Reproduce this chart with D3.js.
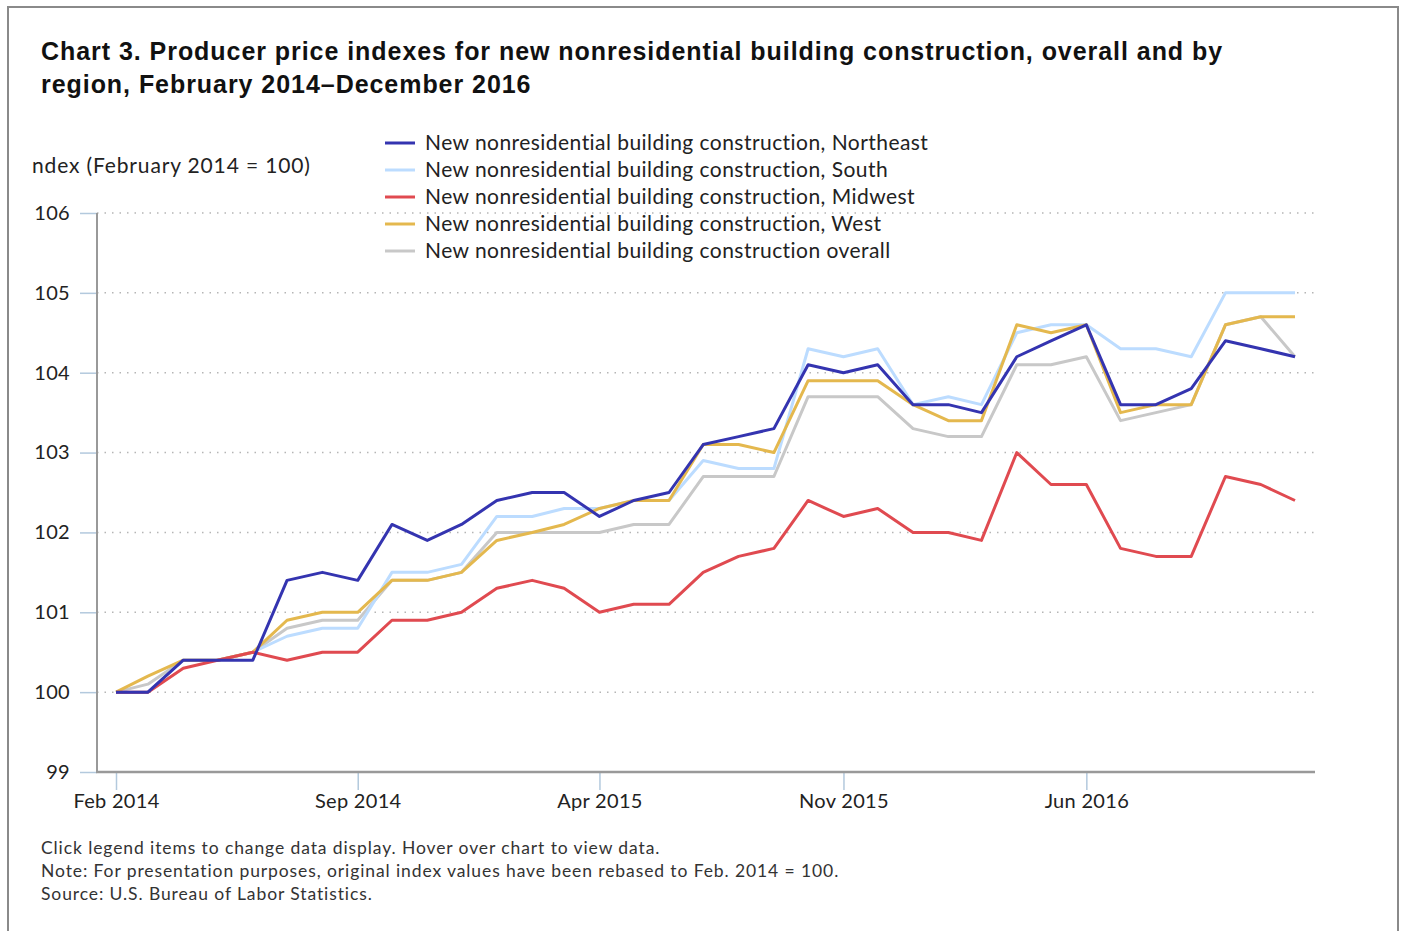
<!DOCTYPE html>
<html>
<head>
<meta charset="utf-8">
<script src="https://cdn.jsdelivr.net/npm/d3@7"></script>
<style>
  body { margin: 0; background: #fff; }
  svg { display: block; }
  .tick text { font-family: Lato, "Open Sans", sans-serif; font-size: 20px; fill: #222; letter-spacing: 0.3px; }
</style>
</head>
<body>
<svg width="1401" height="931"></svg>
<script>
// month index 0 = Feb 2014 ... 34 = Dec 2016
const startMonth = new Date(2014, 1, 1);
const monthCount = 35;
const xTickLabels = ["Feb 2014", "Sep 2014", "Apr 2015", "Nov 2015", "Jun 2016"];
const yTicks = [99, 100, 101, 102, 103, 104, 105, 106];

const seriesNames = [
  "New nonresidential building construction, Northeast",
  "New nonresidential building construction, South",
  "New nonresidential building construction, Midwest",
  "New nonresidential building construction, West",
  "New nonresidential building construction overall"
];

const northeast = [100.0,100.0,100.4,100.4,100.4,101.4,101.5,101.4,102.1,101.9,102.1,102.4,102.5,102.5,102.2,102.4,102.5,103.1,103.2,103.3,104.1,104.0,104.1,103.6,103.6,103.5,104.2,104.4,104.6,103.6,103.6,103.8,104.4,104.3,104.2];
const south = [100.0,100.0,100.4,100.4,100.5,100.7,100.8,100.8,101.5,101.5,101.6,102.2,102.2,102.3,102.3,102.4,102.4,102.9,102.8,102.8,104.3,104.2,104.3,103.6,103.7,103.6,104.5,104.6,104.6,104.3,104.3,104.2,105.0,105.0,105.0];
const midwest = [100.0,100.0,100.3,100.4,100.5,100.4,100.5,100.5,100.9,100.9,101.0,101.3,101.4,101.3,101.0,101.1,101.1,101.5,101.7,101.8,102.4,102.2,102.3,102.0,102.0,101.9,103.0,102.6,102.6,101.8,101.7,101.7,102.7,102.6,102.4];
const west = [100.0,100.2,100.4,100.4,100.5,100.9,101.0,101.0,101.4,101.4,101.5,101.9,102.0,102.1,102.3,102.4,102.4,103.1,103.1,103.0,103.9,103.9,103.9,103.6,103.4,103.4,104.6,104.5,104.6,103.5,103.6,103.6,104.6,104.7,104.7];
const overall = [100.0,100.1,100.4,100.4,100.5,100.8,100.9,100.9,101.4,101.4,101.5,102.0,102.0,102.0,102.0,102.1,102.1,102.7,102.7,102.7,103.7,103.7,103.7,103.3,103.2,103.2,104.1,104.1,104.2,103.4,103.5,103.6,104.6,104.7,104.2];

const colors = ["#3434b0", "#bcdcff", "#e04a50", "#e4b84e", "#c8c8c8"];
// draw order: overall at the back, northeast on top
const drawOrder = [4, 1, 3, 2, 0];
const allSeries = [northeast, south, midwest, west, overall];

const svg = d3.select("svg");
const font = "Lato, 'Open Sans', sans-serif";

// frame
svg.append("path")
  .attr("d", "M8,931 V7 H1398 V931")
  .attr("fill", "none")
  .attr("stroke", "#8a8a8a")
  .attr("stroke-width", 2);

// title
const titleLines = [
  "Chart 3. Producer price indexes for new nonresidential building construction, overall and by",
  "region, February 2014\u2013December 2016"
];
svg.append("g")
  .selectAll("text")
  .data(titleLines)
  .enter()
  .append("text")
  .attr("x", 41).attr("y", (d, i) => 60 + i * 33)
  .style("font-family", "'Liberation Sans', Arial, sans-serif")
  .style("font-weight", "bold").style("font-size", "25px")
  .style("letter-spacing", "0.95px").attr("fill", "#111")
  .text((d) => d);

// scales
const months = d3.range(monthCount).map((i) => d3.timeMonth.offset(startMonth, i));
const xScale = d3.scaleTime()
  .domain([months[0], months[monthCount - 1]])
  .range([116, 1295]);
const yScale = d3.scaleLinear().domain([99, 106]).range([772, 213]);

// gridlines
svg.append("g")
  .selectAll("line")
  .data(yTicks.slice(1))
  .enter()
  .append("line")
  .attr("x1", 97).attr("x2", 1314)
  .attr("y1", (d) => yScale(d)).attr("y2", (d) => yScale(d))
  .attr("stroke", "#b5b5b5")
  .attr("stroke-width", 1.5)
  .attr("stroke-dasharray", "1.5,6");

// y axis
const yAxis = d3.axisLeft(yScale).tickValues(yTicks).tickFormat(d3.format("d")).tickSize(17).tickPadding(10);
const yAxisG = svg.append("g").attr("transform", "translate(97,0)").call(yAxis);
yAxisG.select("path.domain").remove();
yAxisG.selectAll(".tick line").attr("stroke", "#b3c9dd").attr("stroke-width", 1.5);

// x axis
const xTickDates = xTickLabels.map((s) => d3.timeParse("%b %Y")(s));
const xAxis = d3.axisBottom(xScale)
  .tickValues(xTickDates)
  .tickFormat(d3.timeFormat("%b %Y"))
  .tickSize(18).tickPadding(4);
const xAxisG = svg.append("g").attr("transform", "translate(0,772)").call(xAxis);
xAxisG.select("path.domain").remove();
xAxisG.selectAll(".tick line").attr("stroke", "#b3c9dd").attr("stroke-width", 1.5);

// axis lines
svg.append("line")
  .attr("x1", 97).attr("x2", 97).attr("y1", yScale(106)).attr("y2", yScale(99))
  .attr("stroke", "#999").attr("stroke-width", 2);
svg.append("line")
  .attr("x1", 96).attr("x2", 1315).attr("y1", yScale(99)).attr("y2", yScale(99))
  .attr("stroke", "#999").attr("stroke-width", 2.5);

// y axis title
svg.append("text")
  .attr("x", 32).attr("y", 173)
  .style("font-family", font).style("font-size", "21px")
  .style("letter-spacing", "0.85px").attr("fill", "#222")
  .text("ndex (February 2014 = 100)");

// lines
const line = d3.line()
  .x((d, i) => xScale(months[i]))
  .y((d) => yScale(d));

svg.append("g")
  .selectAll("path")
  .data(drawOrder)
  .enter()
  .append("path")
  .attr("d", (k) => line(allSeries[k]))
  .attr("fill", "none")
  .attr("stroke", (k) => colors[k])
  .attr("stroke-width", 3)
  .attr("stroke-linejoin", "round");

// legend
const legend = svg.append("g").attr("transform", "translate(385,143)");
const items = legend.selectAll("g")
  .data(seriesNames)
  .enter()
  .append("g")
  .attr("transform", (d, i) => `translate(0,${i * 27})`);
items.append("line")
  .attr("x1", 0).attr("x2", 30)
  .attr("stroke", (d, i) => colors[i])
  .attr("stroke-width", 3);
items.append("text")
  .attr("x", 40).attr("y", 7)
  .style("font-family", font).style("font-size", "21px")
  .style("letter-spacing", "0.45px").attr("fill", "#222")
  .text((d) => d);

// footer notes
const notes = [
  "Click legend items to change data display. Hover over chart to view data.",
  "Note: For presentation purposes, original index values have been rebased to Feb. 2014 = 100.",
  "Source: U.S. Bureau of Labor Statistics."
];
svg.append("g")
  .selectAll("text")
  .data(notes)
  .enter()
  .append("text")
  .attr("x", 41).attr("y", (d, i) => 854 + i * 23)
  .style("font-family", font).style("font-size", "17.5px")
  .style("letter-spacing", "0.9px").attr("fill", "#333")
  .text((d) => d);
</script>
</body>
</html>
